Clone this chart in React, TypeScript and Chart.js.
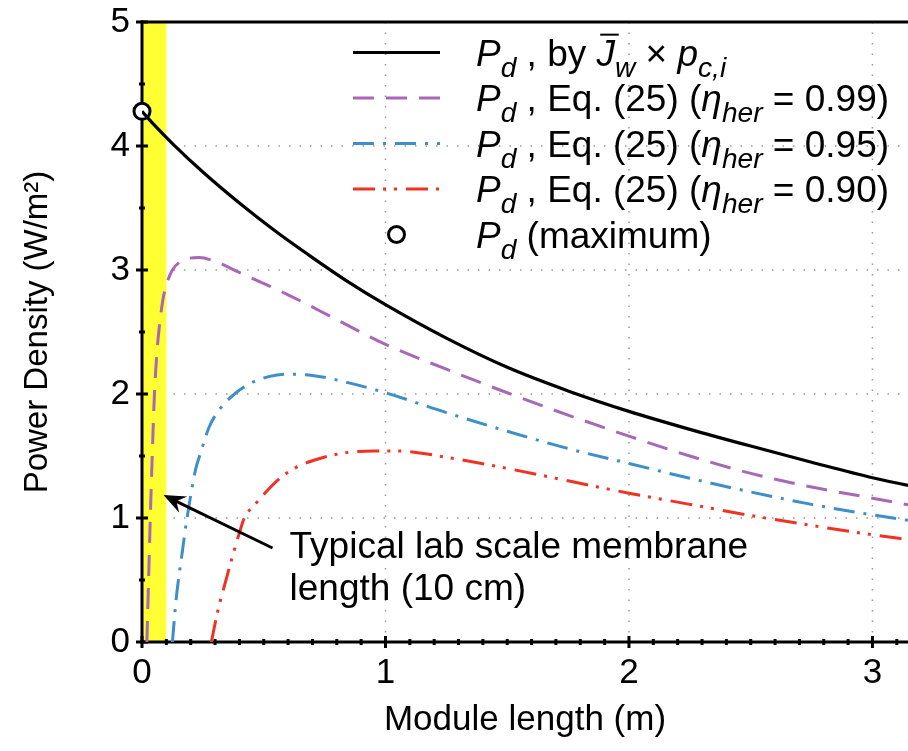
import React, { useEffect, useRef } from "react";
import { Chart, registerables } from "chart.js";

Chart.register(...registerables);

// ---------------- data ----------------
const xBlack = [0, 0.05, 0.125, 0.25, 0.4, 0.55, 0.7, 0.85, 1.0, 1.25, 1.5, 1.75, 2.0, 2.25, 2.5, 2.75, 3.0, 3.15];
const yBlack = [4.28, 4.17, 4.02, 3.79, 3.54, 3.31, 3.1, 2.9, 2.72, 2.45, 2.215, 2.025, 1.86, 1.715, 1.58, 1.45, 1.325, 1.262];

const xPurple = [0.02, 0.027, 0.034, 0.042, 0.05, 0.06, 0.07, 0.085, 0.1, 0.125, 0.17, 0.235, 0.3, 0.4, 0.6, 0.8, 1.0, 1.25, 1.5, 1.75, 2.0, 2.25, 2.5, 2.75, 3.0, 3.15];
const yPurple = [0, 0.5, 1.0, 1.5, 1.95, 2.3, 2.52, 2.75, 2.88, 3.0, 3.08, 3.1, 3.07, 2.98, 2.8, 2.6, 2.4, 2.2, 2.01, 1.83, 1.66, 1.5, 1.36, 1.25, 1.16, 1.105];

const xBlue = [0.125, 0.14, 0.165, 0.185, 0.22, 0.24, 0.275, 0.32, 0.38, 0.45, 0.52, 0.59, 0.7, 0.85, 1.0, 1.25, 1.5, 1.75, 2.0, 2.25, 2.5, 2.75, 3.0, 3.15];
const yBlue = [0, 0.34, 0.72, 1.0, 1.39, 1.52, 1.73, 1.88, 2.0, 2.09, 2.14, 2.16, 2.15, 2.09, 2.01, 1.85, 1.7, 1.56, 1.44, 1.32, 1.21, 1.11, 1.025, 0.98];

const xRed = [0.285, 0.31, 0.345, 0.37, 0.4, 0.42, 0.46, 0.5, 0.56, 0.635, 0.73, 0.85, 0.95, 1.05, 1.25, 1.5, 1.75, 2.0, 2.25, 2.5, 2.75, 3.0, 3.15];
const yRed = [0, 0.24, 0.5, 0.68, 0.88, 1.0, 1.1, 1.19, 1.31, 1.41, 1.48, 1.53, 1.54, 1.54, 1.49, 1.4, 1.3, 1.2, 1.11, 1.02, 0.94, 0.865, 0.825];

const xMax = [0];
const yMax = [4.28];

const bandRange = [0, 0.1]; // typical lab-scale membrane length (m)

const xTicks = [0, 1, 2, 3];
const yTicks = [0, 1, 2, 3, 4, 5];
const xGrid = [1, 2, 3];
const yGrid = [1, 2, 3, 4];

const annotationLines = ["Typical lab scale membrane", "length (10 cm)"];

// ---------------- styling / layout ----------------
const FONT = "'Liberation Sans', Arial, Helvetica, sans-serif";
const X_MAX = 3.146;
const PURPLE = "#a967b7";
const BLUE = "#3d8ec9";
const RED = "#ee3322";
const YELLOW = "#ffff33";

const DASH_PURPLE = [21, 12];
const DASH_BLUE = [21, 9, 3, 9];
const DASH_RED = [22, 8, 3, 8, 3, 9];

// annotation anchors in data units
const ANN_TEXT_X = 0.606;
const ANN_TEXT_Y = [0.758, 0.42];
const ARROW_TAIL = { x: 0.536, y: 0.758 };
const ARROW_TIP = { x: 0.088, y: 1.185 };

type Seg = [string, "n" | "i" | "si" | "ibar"];
const legendRows: { kind: string; segs: Seg[] }[] = [
  { kind: "black", segs: [["P", "i"], ["d", "si"], [" , by ", "n"], ["J", "ibar"], ["w", "si"], [" \u00d7 ", "n"], ["p", "i"], ["c,i", "si"]] },
  { kind: "purple", segs: [["P", "i"], ["d", "si"], [" , Eq. (25) (", "n"], ["\u03b7", "i"], ["her", "si"], [" = 0.99)", "n"]] },
  { kind: "blue", segs: [["P", "i"], ["d", "si"], [" , Eq. (25) (", "n"], ["\u03b7", "i"], ["her", "si"], [" = 0.95)", "n"]] },
  { kind: "red", segs: [["P", "i"], ["d", "si"], [" , Eq. (25) (", "n"], ["\u03b7", "i"], ["her", "si"], [" = 0.90)", "n"]] },
  { kind: "marker", segs: [["P", "i"], ["d", "si"], [" (maximum)", "n"]] },
];

function drawRich(ctx: CanvasRenderingContext2D, x: number, baseline: number, segs: Seg[], fs: number) {
  let cx = x;
  ctx.textBaseline = "alphabetic";
  ctx.textAlign = "left";
  for (const [t, k] of segs) {
    const sub = k === "si";
    const italic = k !== "n";
    const size = sub ? fs * 0.76 : fs;
    ctx.font = `${italic ? "italic " : ""}${size}px ${FONT}`;
    const yy = sub ? baseline + fs * 0.3 : baseline;
    ctx.fillStyle = "#000";
    ctx.fillText(t, cx, yy);
    const w = ctx.measureText(t).width;
    if (k === "ibar") {
      ctx.save();
      ctx.strokeStyle = "#000";
      ctx.lineWidth = 2;
      ctx.setLineDash([]);
      ctx.beginPath();
      const oy = baseline - fs * 0.84;
      ctx.moveTo(cx + fs * 0.1, oy);
      ctx.lineTo(cx + w + fs * 0.1, oy);
      ctx.stroke();
      ctx.restore();
    }
    cx += w;
  }
}

function seg(ctx: CanvasRenderingContext2D, x1: number, y1: number, x2: number, y2: number) {
  ctx.beginPath();
  ctx.moveTo(x1, y1);
  ctx.lineTo(x2, y2);
  ctx.stroke();
}

const customPlugin = {
  id: "customDecor",
  beforeDatasetsDraw(chart: any) {
    const { ctx, chartArea: ca, scales } = chart;
    const x = scales.x;
    const y = scales.y;
    ctx.save();
    // dotted grid
    ctx.strokeStyle = "#9a9a9a";
    ctx.lineWidth = 1.5;
    ctx.setLineDash([1.5, 9]);
    for (const v of xGrid) {
      const px = x.getPixelForValue(v);
      seg(ctx, px, ca.top, px, ca.bottom);
    }
    for (const v of yGrid) {
      const py = y.getPixelForValue(v);
      seg(ctx, ca.left, py, ca.right, py);
    }
    ctx.setLineDash([]);
    // yellow band
    const b0 = x.getPixelForValue(bandRange[0]);
    const b1 = x.getPixelForValue(bandRange[1]);
    ctx.fillStyle = YELLOW;
    ctx.fillRect(b0, ca.top, b1 - b0, ca.bottom - ca.top);
    // frame
    ctx.strokeStyle = "#000";
    ctx.lineWidth = 3;
    ctx.lineCap = "square";
    seg(ctx, ca.left, ca.top, ca.right + 2, ca.top);
    seg(ctx, ca.left, ca.top, ca.left, ca.bottom);
    seg(ctx, ca.left, ca.bottom, ca.right + 2, ca.bottom);
    ctx.lineCap = "butt";
    // major ticks
    for (const v of yTicks) {
      const py = y.getPixelForValue(v);
      seg(ctx, ca.left - 6, py, ca.left + 6, py);
    }
    for (const v of xTicks) {
      const px = x.getPixelForValue(v);
      seg(ctx, px, ca.bottom - 6, px, ca.bottom + 6);
    }
    // minor ticks
    for (let i = 0; i < 10; i++) {
      const v = i + 0.5;
      if (v > 5) break;
      const py = y.getPixelForValue(v);
      seg(ctx, ca.left - 3, py, ca.left + 3, py);
    }
    for (let i = 1; i < 40; i++) {
      if (i % 10 === 0) continue;
      const v = i / 10;
      if (v > X_MAX) break;
      const px = x.getPixelForValue(v);
      seg(ctx, px, ca.bottom - 3, px, ca.bottom + 3);
    }
    ctx.restore();
  },
  afterDatasetsDraw(chart: any) {
    const { ctx, scales } = chart;
    const x = scales.x;
    const y = scales.y;
    ctx.save();
    // annotation text
    ctx.fillStyle = "#000";
    ctx.font = `37px ${FONT}`;
    ctx.textAlign = "left";
    ctx.textBaseline = "middle";
    annotationLines.forEach((t, i) => {
      ctx.fillText(t, x.getPixelForValue(ANN_TEXT_X), y.getPixelForValue(ANN_TEXT_Y[i]));
    });
    // arrow
    const tx = x.getPixelForValue(ARROW_TIP.x);
    const ty = y.getPixelForValue(ARROW_TIP.y);
    const sx = x.getPixelForValue(ARROW_TAIL.x);
    const sy = y.getPixelForValue(ARROW_TAIL.y);
    const dx = tx - sx;
    const dy = ty - sy;
    const len = Math.hypot(dx, dy);
    const ux = dx / len;
    const uy = dy / len;
    const nx = -uy;
    const ny = ux;
    const L = 22;
    const W = 9;
    ctx.strokeStyle = "#000";
    ctx.lineWidth = 3;
    seg(ctx, sx, sy, tx - ux * L * 0.6, ty - uy * L * 0.6);
    ctx.beginPath();
    ctx.moveTo(tx, ty);
    ctx.lineTo(tx - ux * L + nx * W, ty - uy * L + ny * W);
    ctx.lineTo(tx - ux * L * 0.65, ty - uy * L * 0.65);
    ctx.lineTo(tx - ux * L - nx * W, ty - uy * L - ny * W);
    ctx.closePath();
    ctx.fillStyle = "#000";
    ctx.fill();

    // legend
    const fs = 37;
    const rowY0 = 52.5;
    const rowGap = 45.5;
    const lx0 = 353;
    const lx1 = 440;
    const tx0 = 476;
    legendRows.forEach((row, i) => {
      const ry = rowY0 + i * rowGap;
      ctx.save();
      ctx.lineWidth = 3;
      ctx.lineCap = "butt";
      if (row.kind === "marker") {
        ctx.setLineDash([]);
        ctx.beginPath();
        ctx.arc((lx0 + lx1) / 2, ry, 8, 0, Math.PI * 2);
        ctx.fillStyle = "#fff";
        ctx.fill();
        ctx.strokeStyle = "#000";
        ctx.stroke();
      } else {
        const col = row.kind === "black" ? "#000" : row.kind === "purple" ? PURPLE : row.kind === "blue" ? BLUE : RED;
        const dash = row.kind === "black" ? [] : row.kind === "purple" ? DASH_PURPLE : row.kind === "blue" ? DASH_BLUE : DASH_RED;
        ctx.strokeStyle = col;
        ctx.setLineDash(dash);
        seg(ctx, lx0, ry, lx1, ry);
      }
      ctx.restore();
      drawRich(ctx, tx0, ry + fs * 0.358, row.segs, fs);
    });
    ctx.restore();
  },
};

export default function App() {
  const ref = useRef<HTMLCanvasElement>(null);
  useEffect(() => {
    const canvas = ref.current;
    if (!canvas) return;
    const mk = (xs: number[], ys: number[]) => xs.map((v, i) => ({ x: v, y: ys[i] }));
    const lineBase = {
      pointRadius: 0,
      pointHoverRadius: 0,
      borderWidth: 3,
      cubicInterpolationMode: "monotone" as const,
      fill: false,
      borderCapStyle: "butt" as const,
    };
    const zeroPad = (s: any) => {
      s.paddingTop = 0;
      s.paddingBottom = 0;
      s.paddingLeft = 0;
      s.paddingRight = 0;
    };
    const chart = new Chart(canvas, {
      type: "line",
      data: {
        datasets: [
          { ...lineBase, label: "Pd by Jw x pc,i", data: mk(xBlack, yBlack), borderColor: "#000", borderWidth: 3.2 },
          { ...lineBase, label: "Pd Eq. (25) 0.99", data: mk(xPurple, yPurple), borderColor: PURPLE, borderDash: DASH_PURPLE },
          { ...lineBase, label: "Pd Eq. (25) 0.95", data: mk(xBlue, yBlue), borderColor: BLUE, borderDash: DASH_BLUE },
          { ...lineBase, label: "Pd Eq. (25) 0.90", data: mk(xRed, yRed), borderColor: RED, borderDash: DASH_RED },
          {
            type: "scatter",
            label: "Pd (maximum)",
            data: mk(xMax, yMax),
            showLine: false,
            pointRadius: 8,
            pointHoverRadius: 8,
            pointBorderWidth: 3,
            pointBorderColor: "#000",
            pointBackgroundColor: "#fff",
            borderColor: "#000",
            backgroundColor: "#fff",
            clip: false,
          } as any,
        ],
      },
      options: {
        responsive: false,
        animation: false,
        devicePixelRatio: 1,
        events: [],
        layout: { autoPadding: false, padding: { top: 22, left: 0, right: 0, bottom: 0 } },
        plugins: { legend: { display: false }, tooltip: { enabled: false } },
        scales: {
          x: {
            type: "linear",
            min: 0,
            max: X_MAX,
            grid: { display: false, drawTicks: false },
            border: { display: false },
            ticks: {
              stepSize: 1,
              includeBounds: false,
              autoSkip: false,
              maxRotation: 0,
              padding: 10,
              color: "#000",
              font: { size: 35, family: FONT },
              callback: (v: any) => (xTicks.includes(Number(v)) ? String(v) : ""),
            } as any,
            title: {
              display: true,
              text: "Module length (m)",
              color: "#000",
              font: { size: 35, family: FONT },
              padding: { top: 0, bottom: 10 },
            },
            afterFit: (s: any) => {
              s.height = 109;
              zeroPad(s);
            },
          },
          y: {
            type: "linear",
            min: 0,
            max: 5,
            grid: { display: false, drawTicks: false },
            border: { display: false },
            ticks: {
              stepSize: 1,
              padding: 12,
              color: "#000",
              font: { size: 35, family: FONT },
              callback: (v: any) => (yTicks.includes(Number(v)) ? String(v) : ""),
            },
            title: {
              display: true,
              text: "Power Density (W/m\u00b2)",
              color: "#000",
              font: { size: 33, family: FONT },
              padding: { top: 18, bottom: 0 },
            },
            afterFit: (s: any) => {
              s.width = 142;
              zeroPad(s);
            },
          },
        },
      },
      plugins: [customPlugin],
    });
    return () => chart.destroy();
  }, []);
  return (
    <div style={{ position: "fixed", left: 0, top: 0, width: 908, height: 751, background: "#fff" }}>
      <canvas ref={ref} width={908} height={751} style={{ display: "block", width: 908, height: 751 }} />
    </div>
  );
}
